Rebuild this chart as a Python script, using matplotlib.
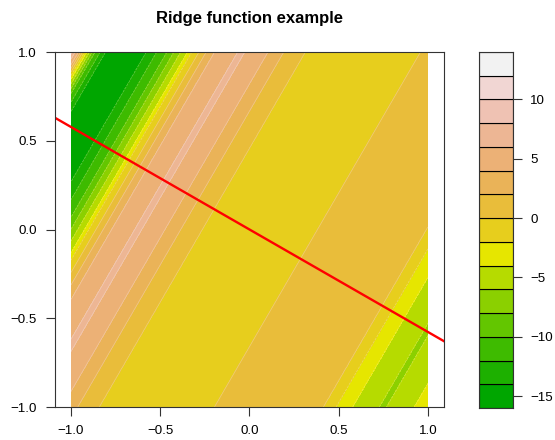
import colorsys
import numpy as np
import matplotlib
matplotlib.use('Agg')
import matplotlib.pyplot as plt

plt.rcParams['font.family'] = ['Liberation Sans', 'DejaVu Sans']

# ── Data ─────────────────────────────────────────────────────────────────────
# ridge direction w and the profile g(t), t = w . (x, y)
ridge_w = [0.866, -0.5]
ridge_t = [-1.37, -1.33, -1.29, -1.25, -1.20, -1.10, -1.00, -0.95, -0.90,
           -0.85, -0.80, -0.78, -0.745, -0.71, -0.67, -0.54, -0.41, -0.334,
           -0.23, 0.05, 0.33, 0.60, 0.86, 0.92, 1.00, 1.13, 1.15, 1.165,
           1.30, 1.37]
ridge_g = [9.0, 4.0, -4.0, -10.0, -14.0, -15.8, -14.0, -12.0, -10.0,
           -7.0, -4.0, -2.0, 0.0, 2.0, 4.0, 6.3, 4.0, 2.0,
           0.0, -1.5, 0.0, 1.5, 0.0, -2.0, -4.0, -6.0, -6.3, -6.0,
           -4.0, -3.0]
levels = np.arange(-16, 15, 2)
key_ticks = [-15, -10, -5, 0, 5, 10]
axis_ticks = [-1.0, -0.5, 0.0, 0.5, 1.0]


def terrain_colors(n):
    # same recipe as R's terrain.colors()
    k = n // 2
    h1 = np.linspace(4 / 12, 2 / 12, k)
    s1 = np.ones(k)
    v1 = np.linspace(0.65, 0.9, k)
    h2 = np.linspace(2 / 12, 0, n - k + 1)[1:]
    s2 = np.linspace(1, 0, n - k + 1)[1:]
    v2 = np.linspace(0.9, 0.95, n - k + 1)[1:]
    h = np.concatenate([h1, h2]); s = np.concatenate([s1, s2]); v = np.concatenate([v1, v2])
    return [colorsys.hsv_to_rgb(a, b, c) for a, b, c in zip(h, s, v)]


cols = terrain_colors(len(levels) - 1)

xs = np.linspace(-1, 1, 301)
ys = np.linspace(-1, 1, 301)
X, Y = np.meshgrid(xs, ys)
Z = np.interp(ridge_w[0] * X + ridge_w[1] * Y, ridge_t, ridge_g)

# ── Figure ───────────────────────────────────────────────────────────────────
fig = plt.figure(figsize=(5.55, 4.4), dpi=100)
ax = fig.add_axes([55 / 555, 33 / 440, 389 / 555, 355 / 440])
key = fig.add_axes([479 / 555, 32 / 440, 34 / 555, 356 / 440])

ax.contourf(X, Y, Z, levels=levels, colors=cols)
# faint seams between the bands, like the R png device leaves
ax.contour(X, Y, Z, levels=levels, colors='white', linewidths=0.5, alpha=0.3)
ax.axline((0, 0), slope=ridge_w[1] / ridge_w[0], color='#ff0000', lw=1.7)
ax.set_xlim(-1.09, 1.09)
ax.set_ylim(-1, 1)
ax.set_xticks(axis_ticks)
ax.set_yticks(axis_ticks)
ax.set_xticklabels([f'{v:.1f}'.replace('-', '\u2212') for v in axis_ticks])
ax.set_yticklabels([f'{v:.1f}'.replace('-', '\u2212') for v in axis_ticks])
ax.tick_params(labelsize=9.6, length=6.5, width=0.8, pad=6.5, color='#333333')
for sp in ax.spines.values():
    sp.set_linewidth(0.8)
    sp.set_color('#333333')

# colour key
key.bar(0, np.diff(levels), bottom=levels[:-1], width=1, color=cols,
        edgecolor='black', linewidth=0.8, align='center')
key.set_xlim(-0.5, 0.5)
key.set_ylim(levels[0], levels[-1])
key.set_xticks([])
key.yaxis.tick_right()
key.set_yticks(key_ticks)
key.set_yticklabels([str(v).replace('-', '\u2212') for v in key_ticks])
key.tick_params(labelsize=9.6, length=6.5, width=0.8, pad=6, color='#333333')
for sp in key.spines.values():
    sp.set_linewidth(0.8)
    sp.set_color('#333333')

fig.text(249 / 555, 1 - 18 / 440, 'Ridge function example', ha='center',
         va='center', fontsize=12, fontweight='bold')

fig.savefig('out.png', dpi=100)
